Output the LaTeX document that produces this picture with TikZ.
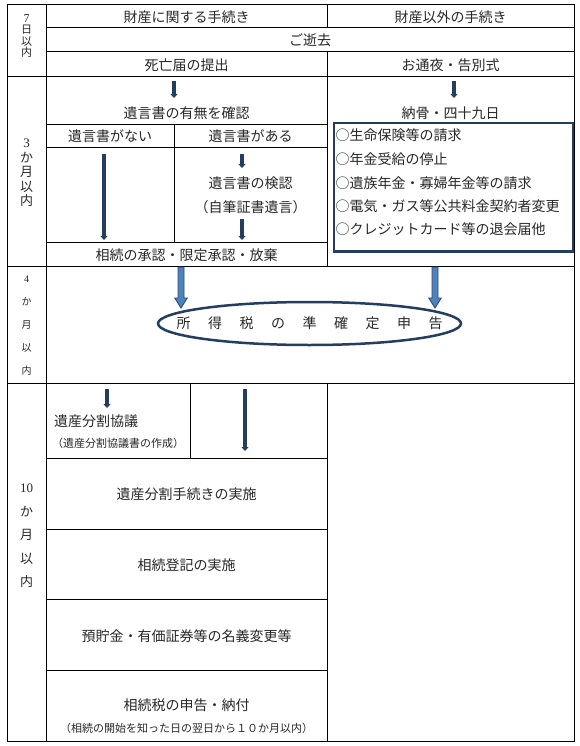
\documentclass[tikz,border=0pt]{standalone}
\usepackage{fontspec}
\setmainfont{Noto Sans CJK JP}
\newfontfamily\lat{Liberation Serif}
\usetikzlibrary{arrows.meta,shapes.geometric}
\definecolor{navy}{RGB}{36,62,96}
\definecolor{txtc}{RGB}{40,40,40}
\definecolor{bafill}{RGB}{79,129,189}
\definecolor{baedge}{RGB}{44,77,117}
\tikzset{
  cell/.style={font=\fontsize{14}{16}\selectfont, text=txtc, inner sep=0pt},
  smalltxt/.style={font=\fontsize{11}{13}\selectfont, text=txtc, inner sep=0pt},
  rule/.style={line width=1pt, black},
  darr/.style={draw=navy, line width=4pt, -{Triangle[width=7pt,length=4pt]}},
  vlab/.style={text=txtc, inner sep=0pt, align=center},
  pics/barrow/.style={code={
    \draw[fill=bafill, draw=baedge, line width=0.9pt]
      (-3,0) -- (-3,31) -- (-6.25,31) -- (0,41) -- (6.25,31) -- (3,31) -- (3,0) -- cycle;}}
}
\begin{document}
\begin{tikzpicture}[x=1pt,y=-1pt]
\useasboundingbox (0,0) rectangle (580,746);
\fill[white] (0,0) rectangle (580,746);

% table rules
\draw[rule] (7,5) rectangle (574,741);
\draw[rule] (46,5) -- (46,741);
\draw[rule] (327,5) -- (327,28);
\draw[rule] (46,28) -- (574,28);
\draw[rule] (46,52) -- (574,52);
\draw[rule] (327,52) -- (327,266);
\draw[rule] (7,77) -- (574,77);
\draw[rule] (46,124.7) -- (327,124.7);
\draw[rule] (46,148) -- (327,148);
\draw[rule] (174,124.7) -- (174,242);
\draw[rule] (46,242) -- (327,242);
\draw[rule] (7,266) -- (574,266);
\draw[rule] (7,383) -- (574,383);
\draw[rule] (327,383) -- (327,741);
\draw[rule] (190.5,383) -- (190.5,458);
\draw[rule] (46,458) -- (327,458);
\draw[rule] (46,529) -- (327,529);
\draw[rule] (46,599) -- (327,599);
\draw[rule] (46,670) -- (327,670);

% left column labels
\node[vlab, font=\fontsize{11}{11.5}\selectfont] (l7) at (26.5,36) {{\lat\fontsize{12}{12}\selectfont 7}\\日\\以\\内};
\node[vlab, font=\fontsize{13}{14.6}\selectfont] (l3) at (26.5,173) {{\lat 3}\\か\\月\\以\\内};
\node[vlab, font=\fontsize{10}{23}\selectfont] (l4) at (26.5,326) {{\lat 4}\\か\\月\\以\\内};
\node[vlab, font=\fontsize{13}{23.5}\selectfont] (l10) at (26.5,536) {{\lat 10}\\か\\月\\以\\内};

% header rows
\node[cell] (h1) at (186.5,17) {財産に関する手続き};
\node[cell] (h2) at (450.5,17) {財産以外の手続き};
\node[cell] (death) at (310,40.5) {ご逝去};
\node[cell] (todoke) at (186.5,65) {死亡届の提出};
\node[cell] (otsuya) at (450.5,65) {お通夜・告別式};

% 3 months block
\node[cell] (umu) at (186.5,113) {遺言書の有無を確認};
\node[cell] (nokotsu) at (450.5,113) {納骨・四十九日};
\node[cell] (nai) at (110,136) {遺言書がない};
\node[cell] (aru) at (250.5,136) {遺言書がある};
\node[cell] (kennin) at (250.5,183) {遺言書の検認};
\node[cell] (jihitsu) at (250.5,207) {（自筆証書遺言）};
\node[cell] (shonin) at (186.5,255) {相続の承認・限定承認・放棄};

\draw[navy, line width=2.5pt] (334,123) rectangle (573,251.5);
\node[cell, anchor=west] (i1) at (335.5,135) {○生命保険等の請求};
\node[cell, anchor=west] (i2) at (335.5,159) {○年金受給の停止};
\node[cell, anchor=west] (i3) at (335.5,183) {○遺族年金・寡婦年金等の請求};
\node[cell, anchor=west] (i4) at (335.5,206) {○電気・ガス等公共料金契約者変更};
\node[cell, anchor=west] (i5) at (335.5,229) {○クレジットカード等の退会届他};

% dark arrows
\coordinate (a1s) at (174,81); \coordinate (a1e) at (174,98);
\coordinate (a2s) at (454,81); \coordinate (a2e) at (454,98);
\coordinate (a3s) at (104,154); \coordinate (a3e) at (104,240);
\coordinate (a4s) at (242,154); \coordinate (a4e) at (242,168);
\coordinate (a5s) at (242,219); \coordinate (a5e) at (242,240);
\coordinate (a6s) at (107,389); \coordinate (a6e) at (107,408);
\coordinate (a7s) at (245,389); \coordinate (a7e) at (245,451);
\foreach \a in {1,...,7}{\draw[darr] (a\a s) -- (a\a e);}

% 4 months block
\pic at (181,267) {barrow};
\pic at (435,267) {barrow};
\node[ellipse, draw=navy, line width=2.5pt, minimum width=303pt, minimum height=43pt, inner sep=0pt] (kakutei) at (309.5,323.5) {};
\node[cell] (kakuteitxt) at (kakutei.center) {所\hspace{17.5pt}得\hspace{17.5pt}税\hspace{17.5pt}の\hspace{17.5pt}準\hspace{17.5pt}確\hspace{17.5pt}定\hspace{17.5pt}申\hspace{17.5pt}告};

% 10 months block
\node[cell, anchor=west] (kyogi) at (54,421) {遺産分割協議};
\node[smalltxt, anchor=west] (kyogisho) at (52,443) {（遺産分割協議書の作成）};
\node[cell] (bunkatsu) at (186.5,494) {遺産分割手続きの実施};
\node[cell] (toki) at (186.5,565) {相続登記の実施};
\node[cell] (meigi) at (186.5,636) {預貯金・有価証券等の名義変更等};
\node[cell] (shinkoku) at (186.5,705) {相続税の申告・納付};
\node[smalltxt] (kigen) at (186.5,728) {（相続の開始を知った日の翌日から１０か月以内）};
\end{tikzpicture}
\end{document}
